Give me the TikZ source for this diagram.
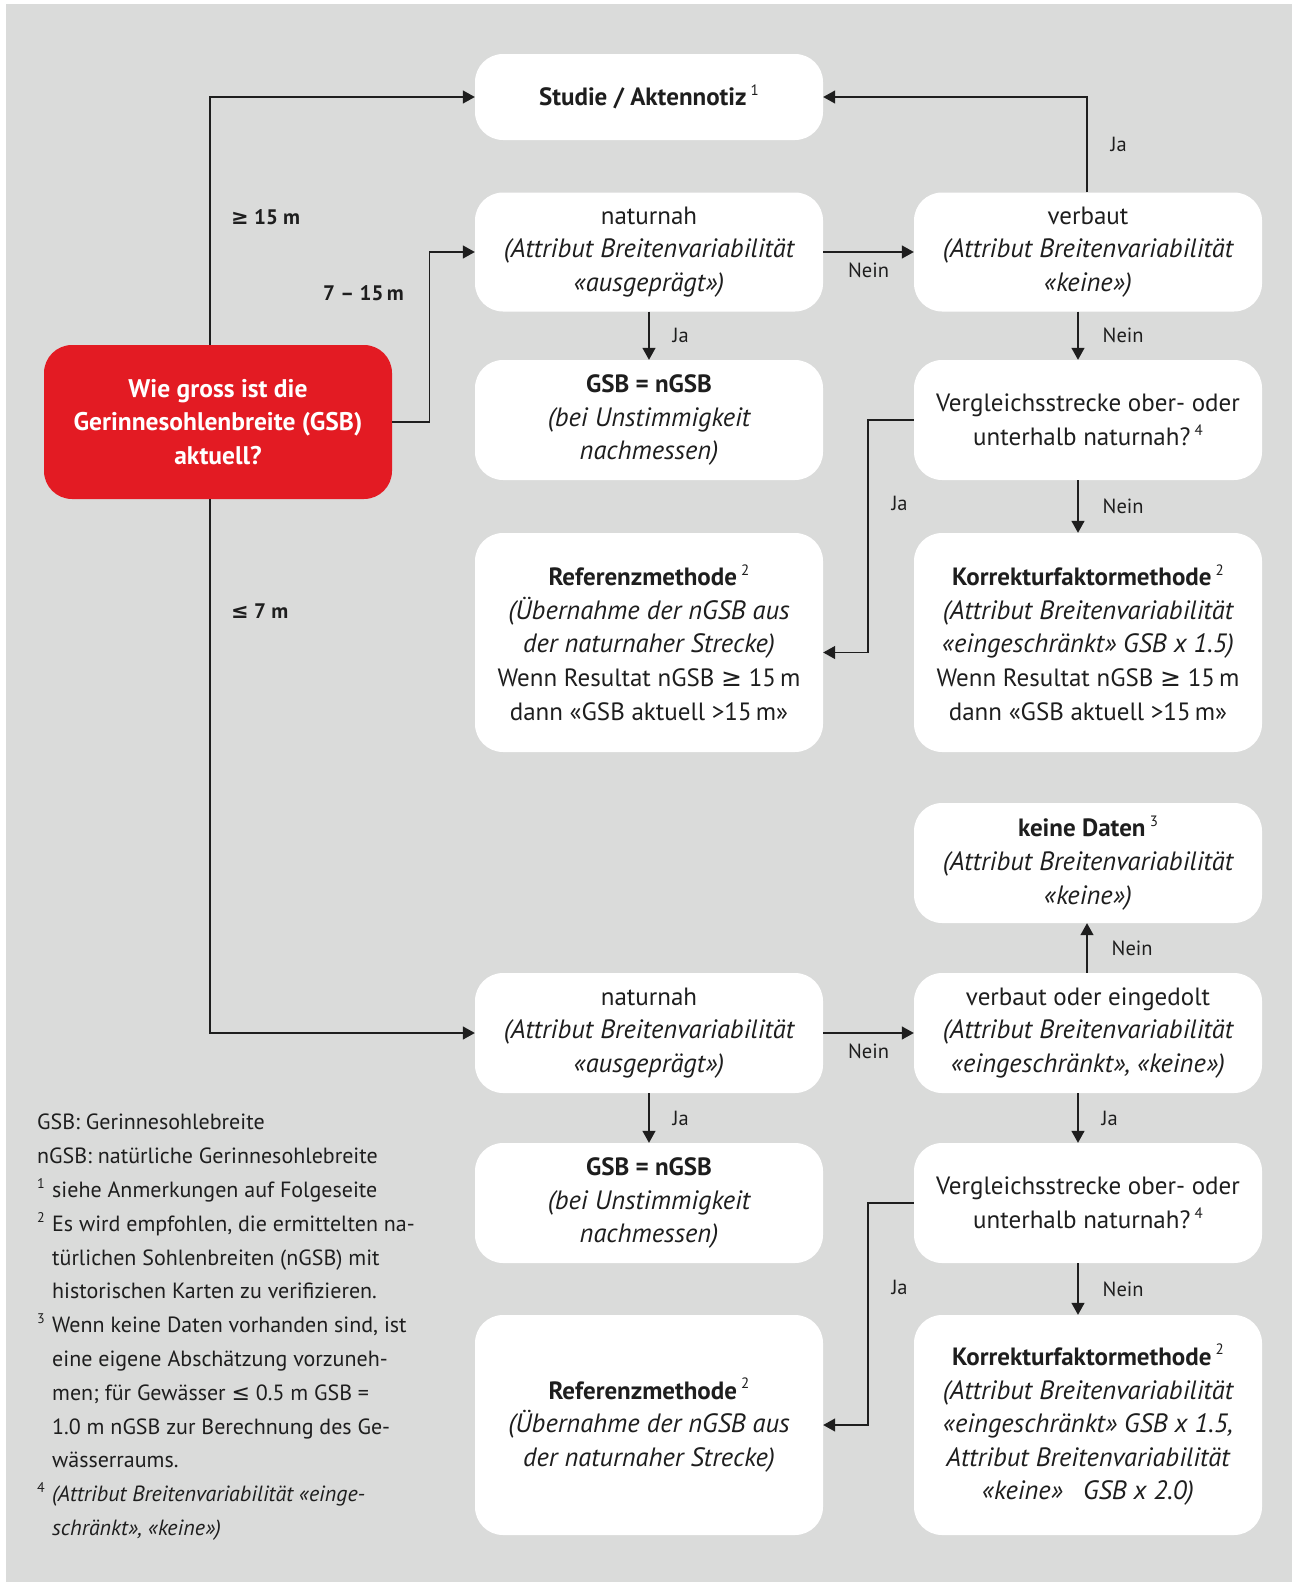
\documentclass[tikz,border=0pt]{standalone}
\usepackage{fontspec}
\setmainfont{PT Sans}
\newfontfamily\symfont{DejaVu Sans}
\usetikzlibrary{arrows.meta}

\definecolor{bggray}{RGB}{218,219,218}
\definecolor{gsred}{RGB}{227,27,35}
\definecolor{ink}{RGB}{30,30,30}

\newcommand{\fnmark}[1]{\,\raisebox{0.42em}{\upshape\mdseries\fontsize{15}{15}\selectfont #1}}
\newcommand{\fnm}[1]{\makebox[15pt][l]{\raisebox{0.4em}{\fontsize{14}{14}\selectfont #1}}}
\newcommand{\fnind}{\hspace*{15pt}}
\newcommand{\itl}[1]{{\fontsize{26.5}{33.6}\selectfont\itshape #1}}
\newcommand{\geqs}{{\symfont ≥}}
\newcommand{\leqs}{{\symfont ≤}}

\begin{document}
\begin{tikzpicture}[
    x=1pt, y=-1pt,
    box/.style={rectangle, rounded corners=28pt, fill=white, minimum width=348pt, align=center, inner sep=0pt, text=ink, font=\fontsize{25}{33.6}\selectfont},
    redbox/.style={box, fill=gsred, text=white, font=\fontsize{25.5}{33.6}\selectfont\bfseries},
    lbl/.style={font=\fontsize{20.5}{24}\selectfont, text=ink, inner sep=0pt},
    blbl/.style={lbl, font=\fontsize{21}{24}\selectfont\bfseries},
    lgd/.style={font=\fontsize{22}{33.8}\selectfont, text=ink, align=left, inner sep=0pt},
    conn/.style={draw=ink, line width=1.4pt, -{Triangle[length=12pt,width=13pt]}}
]
    % Hintergrund
    \useasboundingbox (0,0) rectangle (1292,1582);
    \fill[white] (0,0) rectangle (1292,1582);
    \fill[bggray] (6,4) rectangle (1292,1582);

    % Frage
    \node[redbox, minimum height=154pt] (frage) at (218,422) {Wie gross ist die\\Gerinnesohlenbreite (GSB)\\aktuell?};

    % >= 15 m
    \node[box, minimum height=86pt] (studie) at (649,97) {\textbf{Studie / Aktennotiz}\fnmark{1}};

    % 7 - 15 m
    \node[box, minimum height=119pt] (nat1) at (649,252) {naturnah\\\itl{(Attribut Breitenvariabilität}\\\itl{«ausgeprägt»)}};
    \node[box, minimum height=120pt] (gsb1) at (649,420) {\textbf{GSB = nGSB}\\\itl{(bei Unstimmigkeit}\\\itl{nachmessen)}};
    \node[box, minimum height=219pt] (ref1) at (649,642.5) {\textbf{Referenzmethode}\fnmark{2}\\\itl{(Übernahme der nGSB aus}\\\itl{der naturnaher Strecke)}\\Wenn Resultat nGSB \geqs\ 15\,m\\dann «GSB aktuell >15\,m»};
    \node[box, minimum height=119pt] (verb1) at (1088,252) {verbaut\\\itl{(Attribut Breitenvariabilität}\\\itl{«keine»)}};
    \node[box, minimum height=120pt] (verg1) at (1088,420) {Vergleichsstrecke ober- oder\\unterhalb naturnah?\fnmark{4}};
    \node[box, minimum height=219pt] (korr1) at (1088,642.5) {\textbf{Korrekturfaktormethode}\fnmark{2}\\\itl{(Attribut Breitenvariabilität}\\\itl{«eingeschränkt» GSB x 1.5)}\\Wenn Resultat nGSB \geqs\ 15\,m\\dann «GSB aktuell >15\,m»};

    % <= 7 m
    \node[box, minimum height=120pt] (keine) at (1088,863) {\textbf{keine Daten}\fnmark{3}\\\itl{(Attribut Breitenvariabilität}\\\itl{«keine»)}};
    \node[box, minimum height=120pt] (nat2) at (649,1033) {naturnah\\\itl{(Attribut Breitenvariabilität}\\\itl{«ausgeprägt»)}};
    \node[box, minimum height=120pt] (verb2) at (1088,1033) {verbaut oder eingedolt\\\itl{(Attribut Breitenvariabilität}\\\itl{«eingeschränkt», «keine»)}};
    \node[box, minimum height=120pt] (gsb2) at (649,1203) {\textbf{GSB = nGSB}\\\itl{(bei Unstimmigkeit}\\\itl{nachmessen)}};
    \node[box, minimum height=120pt] (verg2) at (1088,1203) {Vergleichsstrecke ober- oder\\unterhalb naturnah?\fnmark{4}};
    \node[box, minimum height=220pt] (ref2) at (649,1425) {\textbf{Referenzmethode}\fnmark{2}\\\itl{(Übernahme der nGSB aus}\\\itl{der naturnaher Strecke)}};
    \node[box, minimum height=220pt] (korr2) at (1088,1425) {\textbf{Korrekturfaktormethode}\fnmark{2}\\\itl{(Attribut Breitenvariabilität}\\\itl{«eingeschränkt» GSB x 1.5,}\\\itl{Attribut Breitenvariabilität}\\\itl{«keine»\enspace\ GSB x 2.0)}};

    % Verzweigung nach Breite
    \draw[conn] ([xshift=-8pt]frage.north) |- (studie.west);
    \draw[conn] (frage.east) -- ++(37,0) |- (nat1.west);
    \draw[conn] ([xshift=-8pt]frage.south) |- (nat2.west);
    \node[blbl, anchor=west] (l15) at (231,217) {\geqs\ 15 m};
    \node[blbl, anchor=west] (l715) at (323,293) {7 – 15\,m};
    \node[blbl, anchor=west] (l7) at (231,611) {\leqs\ 7 m};

    % oberer Zweig
    \draw[conn] (nat1.east) -- node[lbl, below=10pt] {Nein} (verb1.west);
    \draw[conn] (nat1.south) -- node[lbl, right=23pt] {Ja} (gsb1.north);
    \draw[conn] ([xshift=-1pt]verb1.north) |- node[lbl, pos=0.25, right=23pt] {Ja} (studie.east);
    \draw[conn] ([xshift=-10pt]verb1.south) -- node[lbl, right=24pt] {Nein} ([xshift=-10pt]verg1.north);
    \draw[conn] (verg1.west) -- ++(-46,0) |- node[lbl, pos=0.18, right=23pt] {Ja} ([yshift=-10pt]ref1.east);
    \draw[conn] ([xshift=-10pt]verg1.south) -- node[lbl, right=24pt] {Nein} ([xshift=-10pt]korr1.north);

    % unterer Zweig
    \draw[conn] (nat2.east) -- node[lbl, below=10pt] {Nein} (verb2.west);
    \draw[conn] (nat2.south) -- node[lbl, right=23pt] {Ja} (gsb2.north);
    \draw[conn] ([xshift=-1pt]verb2.north) -- node[lbl, right=24pt] {Nein} ([xshift=-1pt]keine.south);
    \draw[conn] ([xshift=-10pt]verb2.south) -- node[lbl, right=23pt] {Ja} ([xshift=-10pt]verg2.north);
    \draw[conn] (verg2.west) -- ++(-46,0) |- node[lbl, pos=0.19, right=23pt] {Ja} (ref2.east);
    \draw[conn] ([xshift=-10pt]verg2.south) -- node[lbl, right=24pt] {Nein} ([xshift=-10pt]korr2.north);

    % Legende
    \node[lgd, anchor=north west] (legende) at (37,1114) {GSB: Gerinnesohlebreite\\
        nGSB: natürliche Gerinnesohlebreite\\
        \fnm{1}siehe Anmerkungen auf Folgeseite\\
        \fnm{2}Es wird empfohlen, die ermittelten na-\\
        \fnind türlichen Sohlenbreiten (nGSB) mit\\
        \fnind historischen Karten zu verifizieren.\\
        \fnm{3}Wenn keine Daten vorhanden sind, ist\\
        \fnind eine eigene Abschätzung vorzuneh-\\
        \fnind men; für Gewässer \leqs\ 0.5 m GSB =\\
        \fnind 1.0 m nGSB zur Berechnung des Ge-\\
        \fnind wässerraums.\\
        \fnm{4}\textit{(Attribut Breitenvariabilität «einge-}\\
        \fnind\textit{schränkt», «keine»)}};
\end{tikzpicture}
\end{document}
